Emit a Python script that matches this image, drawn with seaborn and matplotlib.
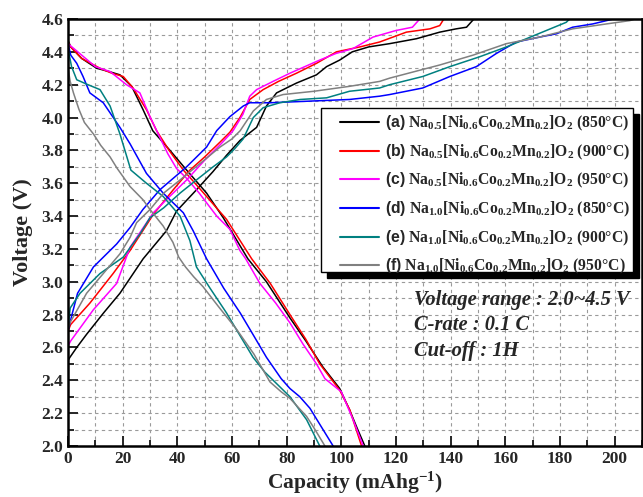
import numpy as np
import pandas as pd
import matplotlib
matplotlib.use("Agg")
import matplotlib.pyplot as plt
import seaborn as sns
from matplotlib.patches import Rectangle
from matplotlib.ticker import MultipleLocator

# ---------------- data ----------------
labels = [
    r"$\mathsf{(a)}$ Na$_{0.5}$[Ni$_{0.6}$Co$_{0.2}$Mn$_{0.2}$]O$_2$ (850°C)",
    r"$\mathsf{(b)}$ Na$_{0.5}$[Ni$_{0.6}$Co$_{0.2}$Mn$_{0.2}$]O$_2$ (900°C)",
    r"$\mathsf{(c)}$ Na$_{0.5}$[Ni$_{0.6}$Co$_{0.2}$Mn$_{0.2}$]O$_2$ (950°C)",
    r"$\mathsf{(d)}$ Na$_{1.0}$[Ni$_{0.6}$Co$_{0.2}$Mn$_{0.2}$]O$_2$ (850°C)",
    r"$\mathsf{(e)}$ Na$_{1.0}$[Ni$_{0.6}$Co$_{0.2}$Mn$_{0.2}$]O$_2$ (900°C)",
    r"$\mathsf{(f)}$ Na$_{1.0}$[Ni$_{0.6}$Co$_{0.2}$Mn$_{0.2}$]O$_2$ (950°C)",
]
colors = ["#000000", "#FF0000", "#FF00FF", "#0000FF", "#008080", "#808080"]

# discharge curves
a_dis_cap = [0, 1, 5, 10.5, 15, 19, 23.3, 27.4, 31, 37.3, 43.4, 50.7, 56.8, 65.8, 72.6, 81.2, 87, 93.3, 99.4, 103, 106, 108.6]
a_dis_v = [4.47, 4.43, 4.36, 4.30, 4.28, 4.26, 4.19, 4.05, 3.92, 3.80, 3.68, 3.54, 3.39, 3.14, 3.00, 2.78, 2.64, 2.48, 2.35, 2.22, 2.10, 2.0]
b_dis_cap = [0, 1, 5, 11.7, 16, 20.2, 23.8, 28.8, 32.4, 37, 42.2, 47, 58, 67.2, 74, 81.2, 87, 92.1, 99.4, 103.1, 107.4]
b_dis_v = [4.46, 4.43, 4.36, 4.30, 4.27, 4.25, 4.18, 4.045, 3.92, 3.80, 3.68, 3.59, 3.38, 3.14, 2.99, 2.80, 2.65, 2.50, 2.34, 2.22, 2.0]
c_dis_cap = [0, 5, 10, 15.4, 21.4, 26.3, 30, 33.6, 36.5, 39.7, 43.4, 48, 54.4, 59.2, 62.9, 65, 70.2, 76, 81.2, 86, 90.9, 94, 97, 100, 104.3, 108]
c_dis_v = [4.45, 4.38, 4.31, 4.28, 4.20, 4.15, 4.005, 3.88, 3.78, 3.69, 3.63, 3.54, 3.40, 3.32, 3.19, 3.14, 2.99, 2.87, 2.75, 2.62, 2.50, 2.41, 2.37, 2.33, 2.16, 2.0]
d_dis_cap = [0, 1, 3.2, 5.5, 8, 12.9, 19, 22.7, 28.7, 34.8, 42.2, 45.8, 50.7, 57, 63, 68, 72.6, 78, 81.2, 84.8, 88.5, 93.3, 97]
d_dis_v = [4.45, 4.38, 4.33, 4.25, 4.15, 4.09, 3.94, 3.84, 3.66, 3.54, 3.42, 3.31, 3.14, 2.96, 2.81, 2.67, 2.54, 2.41, 2.35, 2.30, 2.23, 2.10, 2.0]
e_dis_cap = [0, 1.3, 3.2, 7.3, 11.7, 15.4, 19, 23, 28.7, 34.8, 41, 44.6, 47, 52, 58, 63, 67.7, 72, 76.3, 81.2, 87.3, 92.1]
e_dis_v = [4.42, 4.31, 4.23, 4.20, 4.17, 4.07, 3.90, 3.68, 3.60, 3.52, 3.40, 3.25, 3.09, 2.96, 2.81, 2.67, 2.54, 2.45, 2.38, 2.30, 2.16, 2.0]
f_dis_cap = [0, 0.8, 2, 4, 6, 9.3, 12, 15.4, 18, 22.7, 27.4, 30, 34.8, 38.4, 40.5, 43, 46, 49.4, 55, 61.7, 68, 73.9, 78, 81.2, 87.3, 90, 94]
f_dis_v = [4.30, 4.22, 4.15, 4.05, 3.97, 3.90, 3.83, 3.76, 3.69, 3.58, 3.50, 3.44, 3.34, 3.24, 3.15, 3.09, 3.03, 2.97, 2.85, 2.71, 2.56, 2.39, 2.33, 2.29, 2.18, 2.11, 2.0]

# charge curves
a_chg_cap = [0, 0.7, 3.2, 6.8, 13, 19, 27.5, 36, 39.7, 47, 53, 58, 62.9, 69, 72.6, 76.3, 83.6, 90.9, 94.6, 99.4, 104, 110, 117.7, 127.5, 136, 142, 145.8, 148.5]
a_chg_v = [2.52, 2.54, 2.60, 2.68, 2.81, 2.93, 3.14, 3.31, 3.43, 3.56, 3.67, 3.77, 3.86, 3.94, 4.07, 4.15, 4.21, 4.26, 4.31, 4.35, 4.40, 4.43, 4.45, 4.48, 4.52, 4.54, 4.55, 4.60]
b_chg_cap = [0, 1, 8, 16.5, 22.7, 31.2, 38.5, 44.6, 50, 55.6, 59.2, 62.9, 66.5, 71.4, 77, 83.6, 90.9, 98.2, 106.8, 114, 123.8, 132.4, 136, 137.5]
b_chg_v = [2.70, 2.74, 2.87, 3.05, 3.19, 3.41, 3.56, 3.68, 3.76, 3.85, 3.91, 4.00, 4.11, 4.17, 4.22, 4.27, 4.33, 4.40, 4.43, 4.46, 4.52, 4.54, 4.56, 4.60]
c_chg_cap = [0, 1, 9.3, 17.8, 22.7, 31.2, 36, 43.4, 50, 56, 60.4, 64, 66.5, 69, 75, 81.2, 92.1, 98, 104.3, 111.6, 120, 126, 128.7]
c_chg_v = [2.61, 2.64, 2.83, 2.99, 3.21, 3.42, 3.50, 3.62, 3.74, 3.84, 3.92, 4.02, 4.13, 4.17, 4.22, 4.27, 4.35, 4.39, 4.42, 4.49, 4.53, 4.55, 4.60]
d_chg_cap = [0, 1.3, 3.5, 9.3, 17.8, 22.7, 27.4, 33.6, 43.4, 50.7, 54.4, 59.2, 64.1, 66.5, 74, 88.5, 103, 114, 117.7, 129.8, 139.7, 149.4, 156.7, 164, 172.6, 178.7, 184.6, 192, 197, 199.5]
d_chg_v = [2.70, 2.79, 2.93, 3.09, 3.23, 3.33, 3.44, 3.56, 3.70, 3.82, 3.92, 4.005, 4.07, 4.09, 4.09, 4.10, 4.11, 4.13, 4.14, 4.18, 4.25, 4.31, 4.39, 4.46, 4.49, 4.51, 4.55, 4.57, 4.59, 4.60]
e_chg_cap = [0, 0.8, 4.4, 11.7, 20.2, 26.3, 30, 35, 41, 47, 53.1, 58, 61, 64.1, 67.8, 71.4, 77.5, 85, 94.6, 103, 114, 117.7, 129.8, 139.7, 150.6, 160.4, 167.7, 175, 182.3, 183.5]
e_chg_v = [2.72, 2.84, 2.93, 3.05, 3.15, 3.29, 3.39, 3.45, 3.54, 3.62, 3.70, 3.76, 3.81, 3.87, 4.00, 4.06, 4.09, 4.11, 4.12, 4.16, 4.18, 4.20, 4.25, 4.31, 4.37, 4.43, 4.48, 4.53, 4.58, 4.60]
f_chg_cap = [0, 0.7, 6.8, 12.9, 19, 22.7, 25.1, 30, 35, 41, 48.3, 55.6, 60, 63, 67.8, 72.6, 78.7, 90, 103, 114, 117.7, 136, 148.2, 160.4, 172.6, 184.6, 197, 205.5, 207.5]
f_chg_v = [2.71, 2.75, 2.93, 3.05, 3.17, 3.27, 3.36, 3.44, 3.54, 3.62, 3.72, 3.82, 3.87, 3.92, 4.04, 4.11, 4.14, 4.16, 4.19, 4.22, 4.24, 4.32, 4.38, 4.45, 4.49, 4.54, 4.57, 4.59, 4.60]

x_ticks = [0, 20, 40, 60, 80, 100, 120, 140, 160, 180, 200]
y_ticks = [2.0, 2.2, 2.4, 2.6, 2.8, 3.0, 3.2, 3.4, 3.6, 3.8, 4.0, 4.2, 4.4, 4.6]
notes = ["Voltage range : 2.0~4.5 V", "C-rate : 0.1 C", "Cut-off : 1H"]

# ---------------- build long-form table ----------------
curves = [
    (a_dis_cap, a_dis_v, a_chg_cap, a_chg_v),
    (b_dis_cap, b_dis_v, b_chg_cap, b_chg_v),
    (c_dis_cap, c_dis_v, c_chg_cap, c_chg_v),
    (d_dis_cap, d_dis_v, d_chg_cap, d_chg_v),
    (e_dis_cap, e_dis_v, e_chg_cap, e_chg_v),
    (f_dis_cap, f_dis_v, f_chg_cap, f_chg_v),
]
rows = []
for lab, (dc, dv, cc, cv) in zip(labels, curves):
    for x, y in zip(dc, dv):
        rows.append((lab, lab + "_dis", x, y))
    for x, y in zip(cc, cv):
        rows.append((lab, lab + "_chg", x, y))
df = pd.DataFrame(rows, columns=["sample", "seg", "cap", "volt"])

# ---------------- style ----------------
sns.set_style("ticks")
plt.rcParams["font.family"] = ["Liberation Serif", "DejaVu Serif"]
plt.rcParams["font.weight"] = "bold"
plt.rcParams["mathtext.fontset"] = "custom"
plt.rcParams["mathtext.rm"] = "Liberation Serif:bold"
plt.rcParams["mathtext.bf"] = "Liberation Serif:bold"
plt.rcParams["mathtext.it"] = "Liberation Serif:italic:bold"
plt.rcParams["mathtext.sf"] = "Liberation Sans"

fig = plt.figure(figsize=(6.43, 4.97), dpi=100)
ax = fig.add_axes([68 / 643, 51 / 497, 574 / 643, 427 / 497])

sns.lineplot(data=df, x="cap", y="volt", hue="sample", units="seg",
             estimator=None, sort=False, palette=colors, hue_order=labels,
             linewidth=1.1, ax=ax, legend=True)

ax.set_xlim(0, 210)
ax.set_ylim(2.0, 4.6)
ax.set_xticks(x_ticks)
ax.set_yticks(y_ticks)
ax.set_yticklabels([f"{v:.1f}" for v in y_ticks])
ax.xaxis.set_minor_locator(MultipleLocator(10))
ax.yaxis.set_minor_locator(MultipleLocator(0.1))
ax.grid(which="both", linestyle=(0, (3, 3)), color="#9a9a9a", linewidth=0.8)
ax.set_axisbelow(True)
ax.tick_params(which="both", direction="in", width=1.4, labelsize=12.5,
               top=False, right=False)
ax.tick_params(which="major", length=7)
ax.tick_params(which="minor", length=4)
for s in ax.spines.values():
    s.set_linewidth(1.8)
    s.set_color("black")

ax.set_xlabel(r"Capacity (mAhg$^{-1}$)", fontsize=15.5, fontweight="bold", labelpad=2)
ax.set_ylabel("Voltage (V)", fontsize=16, fontweight="bold", labelpad=6)

# legend with custom frame + shadow
handles, labs = ax.get_legend_handles_labels()
leg = ax.legend(handles, labs, loc="upper left",
                bbox_to_anchor=((340 - 68) / 574, (446 - 114) / 427),
                frameon=False, borderpad=0, borderaxespad=0,
                handlelength=2.5, handletextpad=0.35, labelspacing=0.6,
                prop={"family": "Liberation Serif", "weight": "bold", "size": 11.3})
leg.set_zorder(6)
for h in leg.get_lines():
    h.set_linewidth(1.5)

fx0, fy0 = (321 - 68) / 574, (446 - 272) / 427
fw, fh = (633 - 321) / 574, (272 - 108) / 427
ax.add_patch(Rectangle((fx0 + 6 / 574, fy0 - 6 / 427), fw, fh, transform=ax.transAxes,
                       facecolor="black", edgecolor="black", zorder=4.8, clip_on=False))
ax.add_patch(Rectangle((fx0, fy0), fw, fh, transform=ax.transAxes,
                       facecolor="white", edgecolor="black", linewidth=1.0,
                       zorder=4.9, clip_on=False))

# annotation text
for i, t in enumerate(notes):
    ax.text(126.5, [2.858, 2.706, 2.548][i], t, fontsize=14.8, fontweight="bold",
            fontstyle="italic", family="Liberation Serif", va="baseline", ha="left",
            zorder=5)

fig.savefig("out.png", dpi=100)
